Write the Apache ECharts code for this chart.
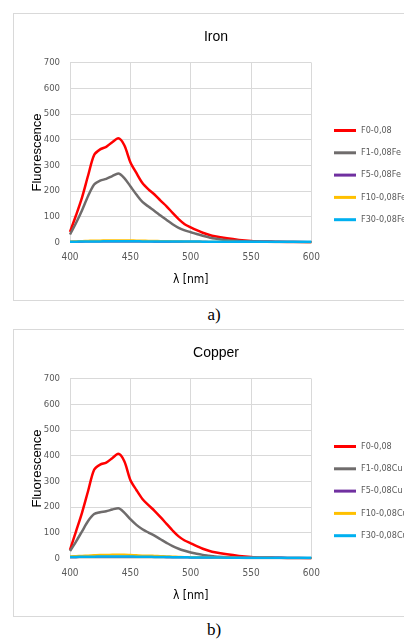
<!DOCTYPE html>
<html>
<head>
<meta charset="utf-8">
<script src="https://cdn.jsdelivr.net/npm/echarts@6/dist/echarts.min.js"></script>
<style>
  html, body { margin: 0; padding: 0; background: #fff; }
  body { width: 404px; height: 644px; position: relative; overflow: hidden; }
  .box { position: absolute; left: 13px; width: 404px; height: 288px; box-sizing: border-box; border: 1px solid #d9d9d9; }
  .chart { width: 404px; height: 288px; }
  .cap { position: absolute; width: 404px; left: 12px; text-align: center; font-family: 'Liberation Serif', serif; font-size: 17px; color: #000; }
</style>
</head>
<body>
<div class="box" style="top:13px"><div id="chartFe" class="chart"></div></div>
<div class="cap" style="top:305px">a)</div>
<div class="box" style="top:329px"><div id="chartCu" class="chart"></div></div>
<div class="cap" style="top:620px">b)</div>
<script>
// wavelength (nm)
const wavelengths = [400,405,410,415,420,425,430,435,440,445,450,455,460,465,470,475,480,485,490,495,500,505,510,515,520,530,540,550,560,570,580,590,600];
const xTicks = { min: 400, max: 600, interval: 50 };
const yTicks = { min: 0, max: 700, interval: 100 };

// Iron
const feNames = ['F0-0,08', 'F1-0,08Fe', 'F5-0,08Fe', 'F10-0,08Fe', 'F30-0,08Fe'];
const feF0  = [40,105,175,260,340,362,372,390,405,378,312,270,231,206,186,162,140,114,90,70,58,47,37,29,23,15,9,5,3,2,1,1,0];
const feF1  = [30,75,125,180,225,240,247,258,268,250,218,186,157,139,122,104,87,70,56,46,39,32,25,19,14,8,5,3,2,1,1,0,0];
const feF5  = [2,2,2,3,3,3,3,3,3,3,3,3,3,3,2,2,2,2,2,2,2,2,2,1,1,1,1,1,1,1,1,1,1];
const feF10 = [3,4,5,6,7,7,8,8,8,8,8,7,7,6,6,5,5,4,4,3,3,3,2,2,2,2,1,1,1,1,1,1,0];
const feF30 = [2,2,3,3,3,3,4,4,4,4,4,4,3,3,3,3,3,3,3,3,3,3,2,2,2,2,2,2,2,2,2,2,2];

// Copper
const cuNames = ['F0-0,08', 'F1-0,08Cu', 'F5-0,08Cu', 'F10-0,08Cu', 'F30-0,08Cu'];
const cuF0  = [32,105,178,262,345,365,373,390,407,378,305,266,231,207,185,160,134,108,85,69,58,47,37,29,23,15,9,5,3,2,1,1,0];
const cuF1  = [28,65,105,145,172,179,183,190,195,178,152,130,113,100,88,74,60,47,37,29,22,17,13,10,7,4,2,1,1,1,0,0,0];
const cuF5  = [4,4,5,5,5,6,6,6,6,6,6,6,5,5,5,5,4,4,4,4,3,3,3,3,3,2,2,2,2,2,1,1,1];
const cuF10 = [8,9,10,11,12,13,13,14,14,14,13,12,11,11,10,9,8,7,6,5,5,4,4,4,3,3,2,2,2,1,1,1,1];
const cuF30 = [5,5,6,6,6,7,7,7,7,7,7,6,6,6,5,5,5,4,4,4,3,3,3,3,3,2,2,2,2,2,2,2,2];

const colors = ['#ff0000', '#6f6c6c', '#7030a0', '#ffc000', '#00b0f0'];
const widths = [2.5, 2.5, 2, 2, 2.5];
const narrow = "'Liberation Sans Narrow', 'DejaVu Sans Condensed', sans-serif";

function makeOption(title, names, values) {
  return {
    animation: false,
    title: {
      text: title, left: 'center', top: 11,
      textStyle: { fontFamily: 'Liberation Sans, Arial, sans-serif', fontSize: 14, fontWeight: 'normal', color: '#000' }
    },
    legend: {
      orient: 'vertical', left: 315, top: 107,
      itemWidth: 22, itemHeight: 3, itemGap: 13.3,
      icon: 'rect',
      textStyle: { fontFamily: narrow, fontSize: 9, color: '#595959' },
      data: names
    },
    grid: { left: 56, top: 48.7, width: 241.4, height: 179.5, containLabel: false, outerBoundsMode: 'none' },
    xAxis: {
      type: 'value', min: xTicks.min, max: xTicks.max, interval: xTicks.interval,
      name: 'λ [nm]', nameLocation: 'middle', nameGap: 32, nameMoveOverlap: false,
      nameTextStyle: { fontFamily: narrow, fontSize: 12, color: '#000' },
      axisLine: { show: false }, axisTick: { show: false },
      axisLabel: { fontFamily: narrow, fontSize: 10, color: '#595959', margin: 10 },
      splitLine: { show: true, lineStyle: { color: '#d9d9d9', width: 1 } }
    },
    yAxis: {
      type: 'value', min: yTicks.min, max: yTicks.max, interval: yTicks.interval,
      name: 'Fluorescence', nameLocation: 'middle', nameGap: 26, nameMoveOverlap: false,
      nameTextStyle: { fontFamily: 'Liberation Sans, Arial, sans-serif', fontSize: 13, color: '#000' },
      axisLine: { show: false }, axisTick: { show: false },
      axisLabel: { fontFamily: narrow, fontSize: 9.5, color: '#595959', margin: 10 },
      splitLine: { show: true, lineStyle: { color: '#d9d9d9', width: 1 } }
    },
    series: names.map((n, i) => ({
      name: n, type: 'line', smooth: 0.3, showSymbol: false, symbol: 'none',
      color: colors[i],
      lineStyle: { color: colors[i], width: widths[i] },
      data: wavelengths.map((w, k) => [w, values[i][k]])
    }))
  };
}

echarts.init(document.getElementById('chartFe')).setOption(
  makeOption('Iron', feNames, [feF0, feF1, feF5, feF10, feF30]));
echarts.init(document.getElementById('chartCu')).setOption(
  makeOption('Copper', cuNames, [cuF0, cuF1, cuF5, cuF10, cuF30]));
</script>
</body>
</html>
